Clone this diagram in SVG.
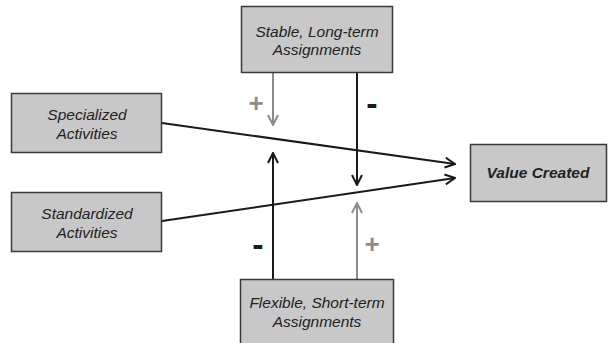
<svg xmlns="http://www.w3.org/2000/svg" width="610" height="343" viewBox="0 0 610 343">
<style>
.box{fill:#c8c8c8;stroke:#3a3a3a;stroke-width:1.5}
.t{font-family:"Liberation Sans",Arial,sans-serif;font-style:italic;font-size:15.5px;fill:#222;text-anchor:middle}
.dk{stroke:#1a1a1a;stroke-width:2;fill:none}
.gr{stroke:#8c8c8c;stroke-width:2;fill:none}
.sg{font-family:"Liberation Sans",Arial,sans-serif;font-weight:bold;font-size:26px;text-anchor:middle}
.mn{font-size:34px}
</style>
<defs>
<marker id="ad" viewBox="0 0 12 12" refX="11" refY="6" markerWidth="12" markerHeight="12" markerUnits="userSpaceOnUse" orient="auto"><path d="M1,1 L11,6 L1,11" fill="none" stroke="#1a1a1a" stroke-width="2"/></marker>
<marker id="ag" viewBox="0 0 12 12" refX="11" refY="6" markerWidth="12" markerHeight="12" markerUnits="userSpaceOnUse" orient="auto"><path d="M1,1 L11,6 L1,11" fill="none" stroke="#8c8c8c" stroke-width="2"/></marker>
</defs>
<rect width="610" height="343" fill="#fff"/>
<g id="connectors">
<line class="gr" x1="273" y1="73" x2="273" y2="125" marker-end="url(#ag)"/>
<line class="dk" x1="357" y1="73" x2="357" y2="185" marker-end="url(#ad)"/>
<line class="dk" x1="273" y1="279" x2="273" y2="153" marker-end="url(#ad)"/>
<line class="gr" x1="357" y1="279" x2="357" y2="203" marker-end="url(#ag)"/>
<line class="dk" x1="162" y1="123" x2="455" y2="164" marker-end="url(#ad)"/>
<line class="dk" x1="162" y1="221" x2="455" y2="178" marker-end="url(#ad)"/>
<text class="sg" x="256" y="112" fill="#8c8c8c">+</text>
<text class="sg mn" x="372" y="115" fill="#1a1a1a">-</text>
<text class="sg mn" x="258" y="256" fill="#1a1a1a">-</text>
<text class="sg" x="372" y="253" fill="#8c8c8c">+</text>
</g>
<g id="stable">
<rect class="box" x="241.5" y="6.5" width="151" height="66"/>
<text class="t" x="317" y="37">Stable, Long-term</text>
<text class="t" x="317" y="55">Assignments</text>
</g>
<g id="specialized">
<rect class="box" x="11.5" y="93.5" width="150" height="59"/>
<text class="t" x="87" y="120">Specialized</text>
<text class="t" x="87" y="139">Activities</text>
</g>
<g id="standardized">
<rect class="box" x="11.5" y="192.5" width="150" height="59"/>
<text class="t" x="87" y="219">Standardized</text>
<text class="t" x="87" y="238">Activities</text>
</g>
<g id="flexible">
<rect class="box" x="240.5" y="279.5" width="153" height="70"/>
<text class="t" x="317" y="308">Flexible, Short-term</text>
<text class="t" x="317" y="327">Assignments</text>
</g>
<g id="value">
<rect class="box" x="470.5" y="144.5" width="136" height="57"/>
<text class="t" x="538" y="178" font-weight="bold">Value Created</text>
</g>
</svg>
